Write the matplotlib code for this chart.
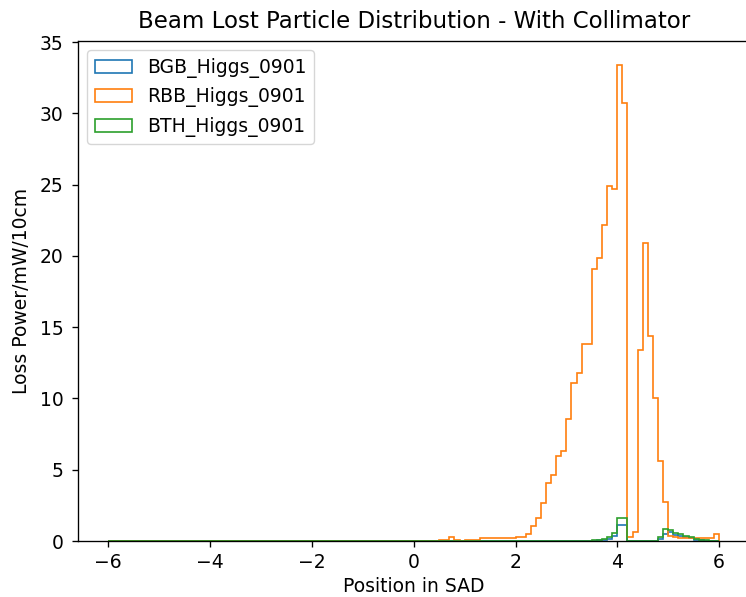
import numpy as np
import matplotlib
matplotlib.use("Agg")
import matplotlib.pyplot as plt

# ---- data ----
edges_lo, edges_hi, bin_w = -6.0, 6.0, 0.1
labels = ["BGB_Higgs_0901", "RBB_Higgs_0901", "BTH_Higgs_0901"]

bgb_start = 3.5
bgb_values = [0.03, 0.05, 0.08, 0.15, 0.35, 1.12, 1.12,
              0, 0, 0, 0, 0, 0,
              0.15, 0.5, 0.6, 0.45, 0.35, 0.25, 0.18, 0.1, 0.06, 0.03]

rbb_start = 0.5
rbb_values = [0.1, 0.1, 0.3, 0.1, 0.0,
              0.1, 0.1, 0.1, 0.2, 0.2, 0.2, 0.2, 0.2, 0.2, 0.2,
              0.3, 0.3, 0.49, 1.05, 1.63, 2.64, 4.04, 4.62, 5.95, 6.32,
              8.54, 11.1, 11.8, 13.8, 13.8, 19.08, 19.85, 22.16, 24.87, 24.68,
              33.4, 30.7, 0.3, 0.65, 13.4, 20.9, 14.4, 10.06, 5.62, 2.75,
              0.35, 0.25, 0.2, 0.2, 0.2, 0.2, 0.2, 0.2, 0.2, 0.5]

bth_start = 3.5
bth_values = [0.08, 0.1, 0.15, 0.3, 0.54, 1.59, 1.59,
              0, 0, 0, 0, 0, 0,
              0.3, 0.87, 0.77, 0.58, 0.47, 0.35, 0.26, 0.16, 0.1, 0.05]

edges = np.round(np.arange(edges_lo, edges_hi + bin_w / 2, bin_w), 2)
centers = (edges[:-1] + edges[1:]) / 2


def full(start, vals):
    arr = np.zeros(len(centers))
    i0 = int(round((start - edges_lo) / bin_w))
    arr[i0:i0 + len(vals)] = vals
    return arr


series = [full(bgb_start, bgb_values), full(rbb_start, rbb_values), full(bth_start, bth_values)]

plt.rcParams.update({
    'font.size': 13.5,
    'axes.linewidth': 0.96,
    'xtick.major.width': 0.96,
    'ytick.major.width': 0.96,
    'xtick.major.size': 4.2,
    'ytick.major.size': 4.2,
    'xtick.major.pad': 4.2,
    'ytick.major.pad': 6,
})
fig = plt.figure(figsize=(7.46, 5.97), dpi=100)
ax = fig.add_axes([0.1042, 0.0938, 0.9007, 0.8375])
for w, lab in zip(series, labels):
    ax.hist(centers, bins=edges, weights=w, histtype='step', label=lab, linewidth=1.2)

ax.set_xlim(-6.6, 6.6)
ax.set_ylim(0, 35.07)
ax.set_title("Beam Lost Particle Distribution - With Collimator", fontsize=16.5, pad=9.5)
ax.set_xlabel("Position in SAD")
ax.set_ylabel("Loss Power/mW/10cm", labelpad=6)
ax.legend(loc='upper left')
fig.savefig("out.png", dpi=100)
